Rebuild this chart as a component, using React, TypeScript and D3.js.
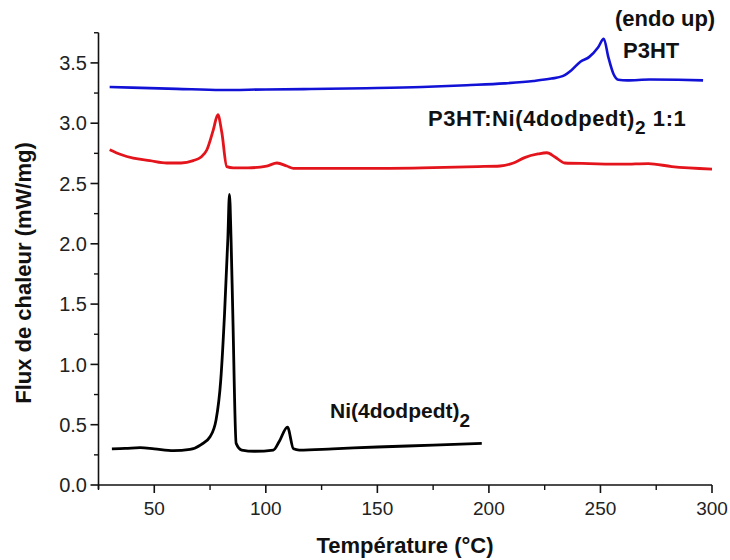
import React from "react";
import * as d3 from "d3";

const xTicks = [50, 100, 150, 200, 250, 300];
const xMinor = [25, 75, 125, 175, 225, 275];
const yTicks = [0, 0.5, 1.0, 1.5, 2.0, 2.5, 3.0, 3.5];
const yMinor = [0.25, 0.75, 1.25, 1.75, 2.25, 2.75, 3.25, 3.75];

const p3htT = [30, 40, 60, 80, 100, 120, 145, 170, 190, 207, 220, 228, 233, 237, 241, 245, 249, 251.5, 253.5, 255.8, 258, 262, 272, 285, 296];
const p3htV = [3.30, 3.295, 3.285, 3.275, 3.28, 3.283, 3.29, 3.30, 3.315, 3.33, 3.35, 3.37, 3.39, 3.44, 3.51, 3.55, 3.63, 3.70, 3.55, 3.41, 3.36, 3.355, 3.362, 3.36, 3.355];

const blendT = [30, 35, 40.6, 48, 55.6, 62, 67.5, 71, 73.6, 76.4, 78.5, 80.3, 82.5, 85.4, 92, 100.4, 105, 109.4, 112.4, 125, 145, 170, 195, 205, 211, 216, 222, 226, 229.6, 234, 245, 260, 271.5, 282, 300];
const blendV = [2.78, 2.74, 2.71, 2.69, 2.67, 2.67, 2.69, 2.72, 2.78, 2.94, 3.07, 2.92, 2.64, 2.63, 2.63, 2.645, 2.67, 2.645, 2.626, 2.625, 2.625, 2.63, 2.64, 2.645, 2.67, 2.715, 2.745, 2.755, 2.72, 2.67, 2.665, 2.66, 2.665, 2.64, 2.62];

const niT = [31, 37, 43.7, 50, 58.6, 66, 71, 75, 77.7, 79.8, 81.5, 83.0, 83.7, 84.4, 85.2, 86.7, 89.2, 95, 103.4, 106, 109.7, 112.4, 115, 130, 150, 175, 196.8];
const niV = [0.30, 0.303, 0.31, 0.30, 0.285, 0.295, 0.335, 0.40, 0.54, 0.87, 1.42, 2.05, 2.41, 2.05, 1.42, 0.345, 0.29, 0.28, 0.29, 0.36, 0.48, 0.30, 0.29, 0.30, 0.315, 0.33, 0.345];

const FONT = "'Liberation Sans', Arial, Helvetica, sans-serif";

export default function App() {
  const x = d3.scaleLinear().domain([25, 300]).range([98.5, 712]);
  const y = d3.scaleLinear().domain([0, 3.75]).range([485, 32.75]);
  const line = d3
    .line<[number, number]>()
    .x((d) => x(d[0]))
    .y((d) => y(d[1]))
    .curve(d3.curveMonotoneX);
  const zip = (a: number[], b: number[]) => a.map((t, i) => [t, b[i]] as [number, number]);

  return (
    <svg
      width={730}
      height={560}
      style={{ position: "absolute", left: 0, top: 0, background: "#fff" }}
      fontFamily={FONT}
    >
      <rect x={0} y={0} width={730} height={560} fill="#fff" />
      {/* axes */}
      <line x1={x(25)} x2={x(300)} y1={y(0)} y2={y(0)} stroke="#111" strokeWidth={1.6} />
      <line x1={x(25)} x2={x(25)} y1={y(0) + 4} y2={y(3.75)} stroke="#111" strokeWidth={1.6} />
      {xTicks.map((t) => (
        <g key={"xt" + t}>
          <line x1={x(t)} x2={x(t)} y1={y(0)} y2={y(0) + 8} stroke="#111" strokeWidth={1.6} />
          <text x={x(t)} y={515} textAnchor="middle" fontSize={19} fill="#222">
            {t}
          </text>
        </g>
      ))}
      {xMinor.map((t) => (
        <line key={"xm" + t} x1={x(t)} x2={x(t)} y1={y(0)} y2={y(0) + 5} stroke="#111" strokeWidth={1.4} />
      ))}
      {yTicks.map((v) => (
        <g key={"yt" + v}>
          <line x1={x(25) - 8} x2={x(25)} y1={y(v)} y2={y(v)} stroke="#111" strokeWidth={1.6} />
          <text x={87} y={y(v)} dy="0.36em" textAnchor="end" fontSize={20} fill="#222">
            {v.toFixed(1)}
          </text>
        </g>
      ))}
      {yMinor.map((v) => (
        <line key={"ym" + v} x1={x(25) - 4.5} x2={x(25)} y1={y(v)} y2={y(v)} stroke="#111" strokeWidth={1.4} />
      ))}

      {/* curves */}
      <path d={line(zip(p3htT, p3htV)) || ""} fill="none" stroke="#1212d6" strokeWidth={2.6} strokeLinejoin="round" />
      <path d={line(zip(blendT, blendV)) || ""} fill="none" stroke="#e3141b" strokeWidth={2.8} strokeLinejoin="round" />
      <path d={line(zip(niT, niV)) || ""} fill="none" stroke="#000" strokeWidth={2.8} strokeLinejoin="round" />

      {/* annotations */}
      <text x={615} y={26} fontSize={22} fontWeight="bold" fill="#111">(endo up)</text>
      <text x={623} y={58} fontSize={22} fontWeight="bold" fill="#111">P3HT</text>
      <text x={428} y={126} fontSize={22} fontWeight="bold" fill="#111" letterSpacing={0.6}>
        P3HT:Ni(4dodpedt)
        <tspan fontSize={19} dy={8}>2</tspan>
        <tspan dy={-8}> 1:1</tspan>
      </text>
      <text x={330} y={418} fontSize={21} fontWeight="bold" fill="#111">
        Ni(4dodpedt)
        <tspan fontSize={19} dy={9}>2</tspan>
      </text>

      {/* titles */}
      <text x={405} y={553} textAnchor="middle" fontSize={22} fontWeight="bold" fill="#111">
        Température (°C)
      </text>
      <text
        transform="translate(31,273) rotate(-90)"
        textAnchor="middle"
        fontSize={22}
        fontWeight="bold"
        fill="#111"
      >
        Flux de chaleur (mW/mg)
      </text>
    </svg>
  );
}
